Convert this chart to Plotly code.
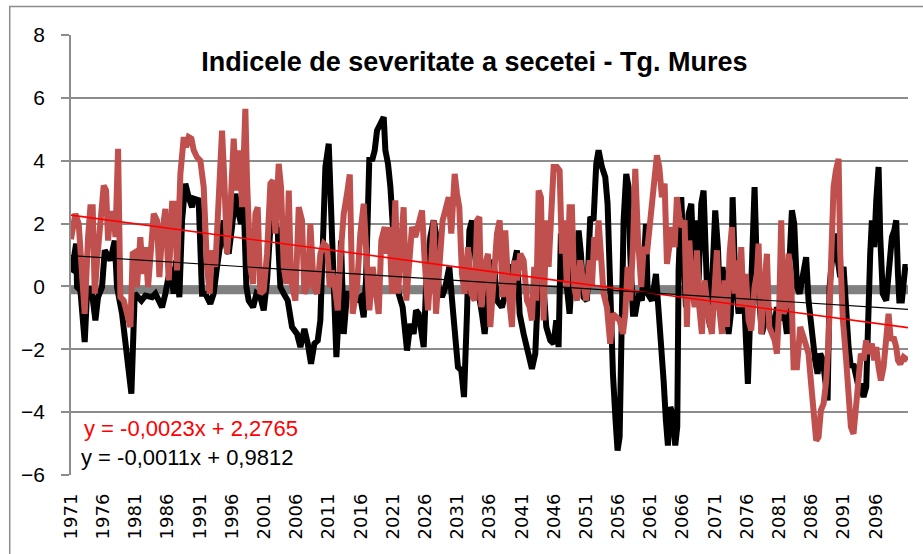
import plotly.graph_objects as go

# indice de severitate a secetei (an zecimal, valoare)
black_years = [
    1971.0, 1971.17, 1971.79, 1971.94, 1972.46, 1973.13, 1973.49, 1974.01, 1974.27, 1974.79,
    1975.2, 1975.82, 1976.24, 1977.12, 1977.79, 1978.15, 1978.93, 1979.45, 1979.71, 1980.07,
    1980.38, 1980.58, 1980.9, 1981.93, 1982.55, 1983.59, 1984.11, 1985.14, 1985.66, 1986.44,
    1986.95, 1987.32, 1987.83, 1988.25, 1988.76, 1989.28, 1989.8, 1990.06, 1990.83, 1991.35,
    1991.87, 1992.64, 1993.16, 1993.68, 1994.3, 1994.72, 1995.13, 1995.49, 1996.01, 1996.53,
    1997.05, 1997.41, 1997.82, 1998.24, 1998.6, 1999.28, 1999.8, 2000.41, 2000.93, 2001.45,
    2001.97, 2002.59, 2003.1, 2003.52, 2004.04, 2004.66, 2005.33, 2006.11, 2006.63, 2007.25,
    2007.77, 2008.28, 2008.8, 2009.32, 2009.73, 2010.15, 2010.51, 2011.03, 2011.39, 2011.8,
    2012.22, 2012.58, 2012.94, 2013.36, 2013.87, 2014.38, 2015.16, 2015.94, 2016.46, 2016.82,
    2017.34, 2017.76, 2018.17, 2018.53, 2019.05, 2019.57, 2019.83, 2020.24, 2020.61, 2020.97,
    2021.37, 2021.89, 2022.51, 2023.19, 2023.71, 2024.22, 2024.59, 2025.0, 2025.42, 2025.78,
    2026.14, 2026.81, 2027.33, 2027.69, 2028.1, 2028.62, 2029.14, 2029.76, 2030.28, 2030.69,
    2031.1, 2031.62, 2032.04, 2032.5, 2032.87, 2033.28, 2033.8, 2034.31, 2034.83, 2035.25,
    2035.76, 2036.28, 2036.64, 2037.16, 2037.93, 2038.71, 2039.23, 2039.75, 2040.26, 2040.68,
    2041.3, 2041.82, 2042.33, 2042.59, 2043.11, 2043.47, 2043.99, 2044.4, 2044.82, 2045.44,
    2045.96, 2046.37, 2046.73, 2047.09, 2047.51, 2047.92, 2048.44, 2048.96, 2049.47, 2049.84,
    2050.2, 2050.61, 2051.13, 2051.65, 2052.16, 2052.58, 2052.94, 2053.46, 2053.98, 2054.34,
    2054.75, 2055.17, 2055.58, 2055.89, 2056.21, 2056.57, 2056.83, 2057.24, 2057.6, 2057.86,
    2058.28, 2058.64, 2059.16, 2059.67, 2060.3, 2060.56, 2061.23, 2061.85, 2062.26, 2062.68,
    2063.04, 2063.4, 2063.71, 2064.08, 2064.44, 2064.85, 2065.16, 2065.37, 2065.78, 2066.14,
    2066.51, 2066.92, 2067.34, 2067.7, 2068.06, 2068.48, 2068.89, 2069.25, 2069.61, 2069.92,
    2070.28, 2070.64, 2071.06, 2071.47, 2071.84, 2072.2, 2072.61, 2073.13, 2073.49, 2073.76,
    2074.17, 2074.69, 2075.1, 2075.61, 2076.13, 2076.49, 2076.86, 2077.17, 2077.53, 2077.89,
    2078.31, 2078.83, 2079.34, 2079.6, 2080.12, 2080.64, 2081.15, 2081.67, 2082.19, 2082.6,
    2082.97, 2083.33, 2083.75, 2084.16, 2084.52, 2085.18, 2085.55, 2086.07, 2086.58, 2086.95,
    2087.37, 2087.78, 2088.14, 2088.51, 2088.82, 2089.18, 2089.55, 2089.95, 2090.47, 2090.99,
    2091.4, 2091.77, 2092.13, 2092.54, 2092.96, 2093.32, 2093.68, 2094.09, 2094.51, 2094.87,
    2095.13, 2095.39, 2095.75, 2096.07, 2096.43, 2096.69, 2097.08, 2097.62, 2098.13, 2098.5,
    2098.86, 2099.17, 2099.44, 2099.65, 2100.05, 2100.57, 2100.95,
]
black_values = [
    0.45, 0.51, 1.36, -0.02, -0.13, -1.77, -0.23, -0.02, -0.23, -1.08,
    -0.34, -0.02, 1.15, 0.83, 1.46, -0.02, -0.87, -1.93, -2.57, -2.88,
    -3.41, -1.4, -0.23, -0.45, -0.29, -0.34, -0.23, -0.66, -0.23, 0.62,
    -0.23, 0.83, -0.34, 2.1, 3.27, 2.84, 2.52, 2.79, 2.74, -0.23,
    -0.23, -0.55, -0.23, 0.62, 1.57, 2.1, 1.25, 1.04, 1.89, 2.95,
    2.31, 1.99, 2.74, -0.02, -0.45, -0.66, -0.23, -0.34, -0.76, 0.19,
    1.89, 2.1, 1.78, -0.02, -0.23, -0.45, -1.29, -1.51, -1.93, -1.35,
    -1.82, -2.46, -1.82, -1.72, -1.08, 1.25, 3.8, 4.54, 2.31, -0.87,
    -2.25, -0.87, 1.46, -1.51, -0.23, -0.23, -0.45, -0.34, -0.98, 0.19,
    4.11, 4.0, 4.33, 4.96, 5.23, 5.39, 4.33, 3.9, 3.16, 1.46,
    0.62, -0.23, -0.66, -2.04, -1.19, -1.51, -0.76, -0.87, -1.51, -1.93,
    -0.02, 1.57, 2.1, 1.68, -0.02, -0.34, -0.02, 0.62, -0.66, -1.93,
    -2.57, -2.67, -3.52, -0.87, 1.78, 2.1, 0.93, -0.23, -0.87, -1.51,
    -0.34, 0.62, 0.83, -0.45, -0.66, -0.02, 0.62, 0.62, 1.15, -0.87,
    -1.51, -2.04, -2.35, -2.62, -2.14, -0.66, 1.99, -0.02, -1.29, -1.72,
    -1.82, -1.08, -1.93, 1.68, 0.62, 0.19, -0.87, 0.83, 0.3, 1.78,
    1.04, -0.34, -0.45, 2.21, 2.1, 3.9, 4.33, 3.8, 3.48, 2.63,
    -0.55, -2.78, -4.26, -5.22, -4.79, -1.08, 2.1, 3.58, 3.16, 1.04,
    -0.87, -0.87, -0.23, -0.45, 1.99, -0.23, -0.45, 0.4, -0.66, -1.93,
    -2.99, -4.26, -5.06, -3.84, -4.05, -5.06, -4.47, 0.51, 2.84, 1.04,
    -0.66, 2.31, 2.63, 0.72, 2.1, 0.19, 2.63, 3.05, 0.83, -0.87,
    -1.29, 0.83, 2.42, 1.25, -0.66, 0.62, -0.23, -1.51, -0.87, 2.84,
    0.19, -0.87, 0.19, -0.66, -3.1, -0.66, 2.63, 3.16, 0.51, -0.45,
    -1.51, -1.08, -0.66, -1.08, -1.51, -0.66, -1.08, -0.66, -1.51, 0.83,
    2.42, 1.99, -0.02, -0.23, 0.3, 0.93, -0.45, -1.51, -2.35, -2.78,
    -2.14, -2.35, -3.1, -3.63, -0.02, 1.04, 1.68, 1.04, 0.3, 0.62,
    -1.08, -1.93, -2.57, -2.47, -2.87, -3.2, -3.1, -3.52, -3.2, 0.4,
    1.04, 2.1, 1.25, 2.74, 3.8, 1.57, -0.23, -0.45, 0.83, 1.57,
    1.78, 2.1, 0.4, -0.45, -0.45, 0.62, 0.62,
]

red_years = [
    1971.0, 1971.17, 1971.68, 1972.2, 1972.61, 1973.13, 1973.65, 1974.01, 1974.37, 1974.69,
    1975.05, 1975.57, 1976.08, 1976.45, 1976.76, 1977.12, 1977.64, 1977.9, 1978.31, 1978.67,
    1979.19, 1979.71, 1980.23, 1980.58, 1980.99, 1981.25, 1981.77, 1982.14, 1982.55, 1982.97,
    1983.48, 1983.85, 1984.36, 1984.73, 1985.14, 1985.66, 1986.18, 1986.7, 1987.11, 1987.47,
    1987.99, 1988.51, 1988.87, 1989.28, 1989.7, 1990.06, 1990.58, 1991.09, 1991.61, 1992.13,
    1992.54, 1992.9, 1993.42, 1993.94, 1994.46, 1994.82, 1995.23, 1995.75, 1996.27, 1996.69,
    1997.2, 1997.57, 1998.08, 1998.34, 1998.86, 1999.28, 1999.64, 2000.0, 2000.41, 2000.93,
    2001.45, 2001.97, 2002.38, 2002.74, 2003.26, 2003.62, 2004.04, 2004.45, 2004.82, 2005.18,
    2005.85, 2006.37, 2006.88, 2007.25, 2007.77, 2008.18, 2008.7, 2009.22, 2009.73, 2010.25,
    2010.77, 2011.18, 2011.54, 2012.06, 2012.43, 2012.84, 2013.36, 2013.87, 2014.3, 2014.75,
    2015.42, 2015.94, 2016.46, 2016.82, 2017.34, 2017.85, 2018.37, 2018.79, 2019.2, 2019.72,
    2020.08, 2020.44, 2020.85, 2021.37, 2021.79, 2022.15, 2022.66, 2023.08, 2023.55, 2023.96,
    2024.48, 2025.0, 2025.52, 2025.93, 2026.45, 2026.97, 2027.33, 2027.69, 2028.21, 2028.72,
    2029.14, 2029.66, 2030.07, 2030.59, 2030.95, 2031.31, 2031.72, 2032.14, 2032.66, 2033.18,
    2033.69, 2034.06, 2034.42, 2034.73, 2035.24, 2035.76, 2036.12, 2036.64, 2037.16, 2037.58,
    2038.04, 2038.45, 2038.97, 2039.49, 2039.85, 2040.26, 2040.78, 2041.3, 2041.82, 2042.23,
    2042.59, 2042.95, 2043.27, 2043.63, 2043.99, 2044.4, 2044.82, 2045.18, 2045.54, 2045.96,
    2046.47, 2046.89, 2047.25, 2047.61, 2048.02, 2048.44, 2048.8, 2049.16, 2049.58, 2050.09,
    2050.51, 2051.02, 2051.55, 2051.91, 2052.27, 2052.58, 2052.94, 2053.31, 2053.72, 2054.24,
    2054.75, 2055.17, 2055.69, 2056.21, 2056.72, 2057.09, 2057.45, 2057.86, 2058.28, 2058.64,
    2059.06, 2059.57, 2059.94, 2060.45, 2060.97, 2061.49, 2062.0, 2062.37, 2062.78, 2063.2,
    2063.56, 2063.92, 2064.33, 2064.75, 2065.11, 2065.47, 2065.88, 2066.3, 2066.66, 2067.03,
    2067.44, 2067.86, 2068.22, 2068.58, 2068.99, 2069.4, 2069.77, 2070.13, 2070.54, 2070.96,
    2071.32, 2071.68, 2072.1, 2072.51, 2072.87, 2073.29, 2073.65, 2074.06, 2074.43, 2074.79,
    2075.1, 2075.46, 2075.82, 2076.24, 2076.65, 2077.17, 2077.53, 2077.79, 2078.21, 2078.57,
    2079.09, 2079.45, 2079.86, 2080.29, 2080.64, 2081.0, 2081.31, 2081.67, 2082.04, 2082.45,
    2082.86, 2083.23, 2083.75, 2084.26, 2084.78, 2085.18, 2085.55, 2085.91, 2086.33, 2086.74,
    2087.11, 2087.47, 2087.89, 2088.3, 2088.66, 2088.92, 2089.18, 2089.44, 2089.8, 2090.22,
    2090.47, 2090.89, 2091.4, 2091.77, 2092.13, 2092.54, 2092.96, 2093.32, 2093.68, 2094.09,
    2094.51, 2094.87, 2095.39, 2095.75, 2096.07, 2096.43, 2096.79, 2097.2, 2097.62, 2097.98,
    2098.34, 2098.76, 2099.17, 2099.44, 2099.8, 2100.31, 2100.95,
]
red_values = [
    1.5, 1.68, 2.31, 1.99, 0.93, -0.87, 1.57, 2.52, 2.52, -0.23,
    0.83, 2.1, 3.21, 3.05, 1.46, 2.31, 2.31, 1.57, 4.38, -0.34,
    -0.45, -0.87, -1.29, 1.04, 1.09, -0.02, 1.57, 0.4, 1.25, -0.02,
    1.78, 2.31, 2.1, 0.3, 1.68, 2.47, 0.19, 2.63, 2.63, 0.51,
    3.58, 4.75, 4.43, 4.75, 4.7, 4.33, 4.11, 4.0, 3.16, 0.62,
    -0.23, 1.15, 0.62, 2.52, 4.96, 3.37, 1.04, 2.42, 4.7, 3.05,
    4.33, 2.52, 5.65, 3.37, 0.62, 0.08, 2.31, 2.52, -0.23, -0.13,
    1.04, 3.27, 3.37, 1.68, 3.9, 3.16, 0.62, 0.08, 3.05, 0.19,
    -0.45, 2.52, 2.1, -0.23, 0.08, 1.99, -0.02, -0.23, 1.04, 1.36,
    1.25, -0.02, 0.51, -0.13, -0.76, 0.93, 2.31, 2.95, 3.56, -0.87,
    -0.02, 1.68, 2.63, 1.25, -0.76, 0.62, -0.23, -0.87, 1.46, 1.89,
    1.04, 1.89, -0.23, 2.74, -0.23, 1.25, 2.52, -0.45, 1.04, 1.89,
    1.57, 2.1, 2.42, 0.83, -0.76, 0.83, 2.1, -0.87, 0.62, 2.1,
    2.42, 2.84, 1.68, 3.58, 2.95, 2.52, 0.4, -0.23, 1.25, -0.23,
    -0.45, 2.1, 2.21, -0.66, 0.62, 1.04, -1.29, 0.62, 1.68, 2.1,
    -0.34, 1.78, -0.23, -1.29, 0.83, 0.19, 1.04, 0.83, -0.45, -0.66,
    -1.08, 0.62, -0.45, 3.05, 2.84, -1.08, 2.1, 0.62, 2.21, 3.8,
    3.8, 3.69, 1.04, 2.1, -0.02, 2.52, 2.52, -0.02, -0.45, 0.83,
    0.19, -0.45, 0.83, -0.02, 1.57, 0.83, 2.1, 0.72, -0.23, -0.66,
    -1.82, -0.87, -0.98, -1.08, -1.51, -0.87, 0.62, -0.45, 1.25, 3.74,
    1.57, -0.02, 1.25, 1.04, 2.1, 3.16, 4.17, 3.8, 2.84, 3.27,
    0.72, 1.25, 1.89, 1.25, 2.84, 2.21, 1.89, 2.1, -1.29, 1.46,
    -0.02, -0.66, 1.15, -0.66, -1.51, 0.19, -0.66, -1.08, -1.51, -0.23,
    1.15, -0.66, -1.51, 0.19, -1.29, 1.04, 1.89, -0.23, 0.83, -0.66,
    1.25, -0.66, 0.4, -1.08, -1.4, -0.02, 0.4, 1.36, -1.51, -0.23,
    1.04, -1.29, -1.51, -1.72, -2.14, -0.66, 2.1, -0.87, -0.66, 1.04,
    0.19, -2.57, -2.57, -1.29, -1.61, -1.93, -2.14, -2.99, -4.05, -4.9,
    -4.79, -3.94, -3.73, -3.0, -1.72, 0.19, 1.04, 3.16, 3.69, 4.06,
    1.04, -1.08, -2.35, -3.52, -4.47, -4.69, -3.84, -2.99, -2.14, -2.35,
    -1.72, -2.14, -1.82, -2.35, -1.93, -2.57, -2.99, -2.57, -1.51, -0.87,
    -1.72, -1.61, -1.93, -2.35, -2.47, -2.25, -2.35,
]

# banda gri de la zero si liniile de tendinta (capete)
band_years = [1971.0, 2101.0]
band_values = [-0.12, -0.12]
trend_years = [1971.0, 2101.0]
red_trend = [2.27, -1.31]
black_trend = [0.98, -0.73]

tick_years = list(range(1971, 2097, 5))
tick_text = [str(y) for y in tick_years]

fig = go.Figure()
fig.add_trace(go.Scatter(x=band_years, y=band_values, mode="lines",
                         line=dict(color="#808080", width=8), hoverinfo="skip"))
fig.add_trace(go.Scatter(x=black_years, y=black_values, mode="lines",
                         line=dict(color="#000000", width=6)))
fig.add_trace(go.Scatter(x=red_years, y=red_values, mode="lines",
                         line=dict(color="#C0504D", width=6)))
fig.add_trace(go.Scatter(x=trend_years, y=red_trend, mode="lines",
                         line=dict(color="#FF0000", width=1.6)))
fig.add_trace(go.Scatter(x=trend_years, y=black_trend, mode="lines",
                         line=dict(color="#000000", width=1.2)))

fig.add_annotation(x=0.013, y=0.105, xref="paper", yref="paper", text="y = -0,0023x + 2,2765",
                   showarrow=False, xanchor="left", yanchor="middle",
                   font=dict(family="Liberation Sans", size=22, color="#FF0000"))
fig.add_annotation(x=0.01, y=0.039, xref="paper", yref="paper", text="y = -0,0011x + 0,9812",
                   showarrow=False, xanchor="left", yanchor="middle",
                   font=dict(family="Liberation Sans", size=22, color="#000000"))

# chenarul exterior al graficului
fig.add_shape(type="rect", xref="paper", yref="paper", x0=-0.0732, x1=1.2, y0=-0.3, y1=1.065,
              line=dict(color="#8c8c8c", width=1.5), fillcolor="rgba(0,0,0,0)", layer="below")

fig.update_layout(
    width=923, height=554,
    margin=dict(l=71, r=15, t=35, b=79),
    paper_bgcolor="white", plot_bgcolor="white",
    showlegend=False,
    title=dict(text="<b>Indicele de severitate a secetei - Tg. Mures</b>",
               x=0.482, xref="paper", xanchor="center",
               y=0.94, yref="paper", yanchor="middle",
               font=dict(family="Liberation Sans", size=27, color="#000000")),
    xaxis=dict(range=[1971, 2101], tickmode="array", tickvals=tick_years, ticktext=tick_text,
               tickangle=-90, showgrid=False, zeroline=False, showline=False,
               ticks="", ticklabelstandoff=14,
               tickfont=dict(family="DejaVu Sans", size=18, color="#000000")),
    yaxis=dict(range=[-6, 8], dtick=2, showgrid=True, gridcolor="#8c8c8c", gridwidth=1.5,
               zeroline=False, showline=True, linecolor="#8c8c8c", linewidth=1.5,
               ticks="outside", ticklen=8, tickcolor="#8c8c8c", tickwidth=1.5,
               ticklabelstandoff=12,
               tickfont=dict(family="Liberation Sans", size=21, color="#000000")),
)

fig.write_html("out.html", config={"displayModeBar": False},
               post_script="document.body.style.margin = '0';")
